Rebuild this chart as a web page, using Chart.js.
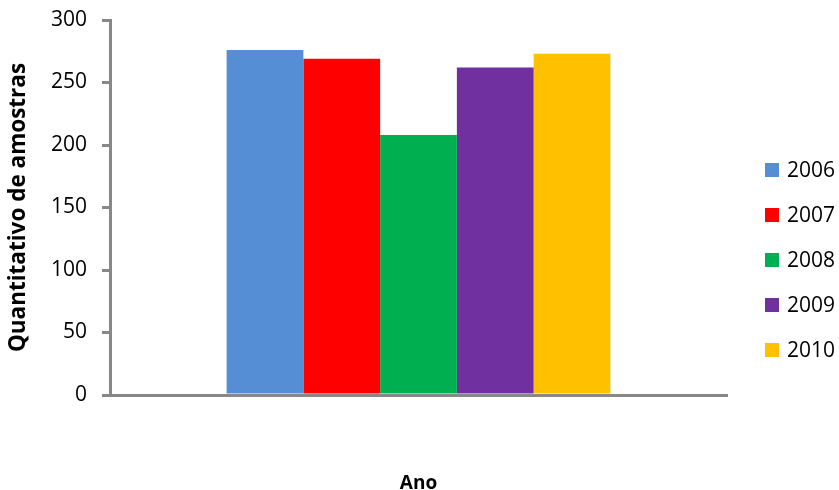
<!DOCTYPE html>
<html>
<head>
<meta charset="utf-8">
<script src="https://cdn.jsdelivr.net/npm/chart.js@4/dist/chart.umd.min.js"></script>
<style>
  html, body { margin: 0; padding: 0; background: #ffffff; }
  #wrap { width: 839px; height: 490px; }
</style>
</head>
<body>
<div id="wrap"><canvas id="chart" width="839" height="490"></canvas></div>
<script>
// Amostras por ano
const categories = [''];
const years = ['2006', '2007', '2008', '2009', '2010'];
const samples = [276, 269, 208, 262, 273];
const colors = ['#558ED5', '#FF0000', '#00B050', '#7030A0', '#FFC000'];
const yTicks = [0, 50, 100, 150, 200, 250, 300];
const yTitle = 'Quantitativo de amostras';
const xTitle = 'Ano';

const FONT = '"Open Sans", "DejaVu Sans", sans-serif';
const AXIS_GREY = '#888888';

// Axis titles and legend on the right side
const decorations = {
  id: 'decorations',
  afterDraw(chart) {
    const ctx = chart.ctx;
    const area = chart.chartArea;
    ctx.save();
    ctx.fillStyle = '#000000';
    // y title
    ctx.font = 'bold 22.5px ' + FONT;
    ctx.textAlign = 'center';
    ctx.textBaseline = 'middle';
    ctx.translate(19, (area.top + area.bottom) / 2);
    ctx.rotate(-Math.PI / 2);
    ctx.fillText(yTitle, 0, 0);
    ctx.restore();

    ctx.save();
    ctx.fillStyle = '#000000';
    ctx.font = 'bold 19px ' + FONT;
    ctx.textAlign = 'center';
    ctx.textBaseline = 'alphabetic';
    ctx.fillText(xTitle, (area.left + area.right) / 2, 489);

    // legend
    ctx.font = '21px ' + FONT;
    ctx.textAlign = 'left';
    ctx.textBaseline = 'middle';
    chart.data.datasets.forEach((ds, i) => {
      const cy = 170 + i * 45;
      ctx.fillStyle = ds.backgroundColor;
      ctx.fillRect(765, cy - 7, 14, 14);
      ctx.fillStyle = '#000000';
      ctx.fillText(ds.label, 787, cy + 1);
    });
    ctx.restore();
  }
};

new Chart(document.getElementById('chart'), {
  type: 'bar',
  data: {
    labels: categories,
    datasets: years.map((y, i) => ({
      label: y,
      data: [samples[i]],
      backgroundColor: colors[i],
      borderWidth: 0,
      barPercentage: 1,
      categoryPercentage: 0.622
    }))
  },
  options: {
    responsive: false,
    animation: false,
    layout: { padding: { top: 20, right: 112, bottom: 0, left: 0 } },
    plugins: {
      legend: { display: false },
      tooltip: { enabled: false }
    },
    scales: {
      x: {
        grid: { display: false, drawTicks: false },
        border: { color: AXIS_GREY, width: 3 },
        ticks: { display: false },
        afterFit(scale) { scale.height = 490 - 395; }
      },
      y: {
        min: 0,
        max: 300,
        afterBuildTicks(scale) { scale.ticks = yTicks.map(v => ({ value: v })); },
        afterFit(scale) {
          scale.width = 110;
          scale.paddingTop = 0;
          scale.paddingBottom = 0;
        },
        grid: {
          drawOnChartArea: false,
          drawTicks: true,
          tickLength: 8,
          color: AXIS_GREY,
          lineWidth: 3
        },
        border: { color: AXIS_GREY, width: 3 },
        ticks: {
          padding: 15,
          color: '#000000',
          font: { family: FONT, size: 21 }
        }
      }
    }
  },
  plugins: [decorations]
});
</script>
</body>
</html>
